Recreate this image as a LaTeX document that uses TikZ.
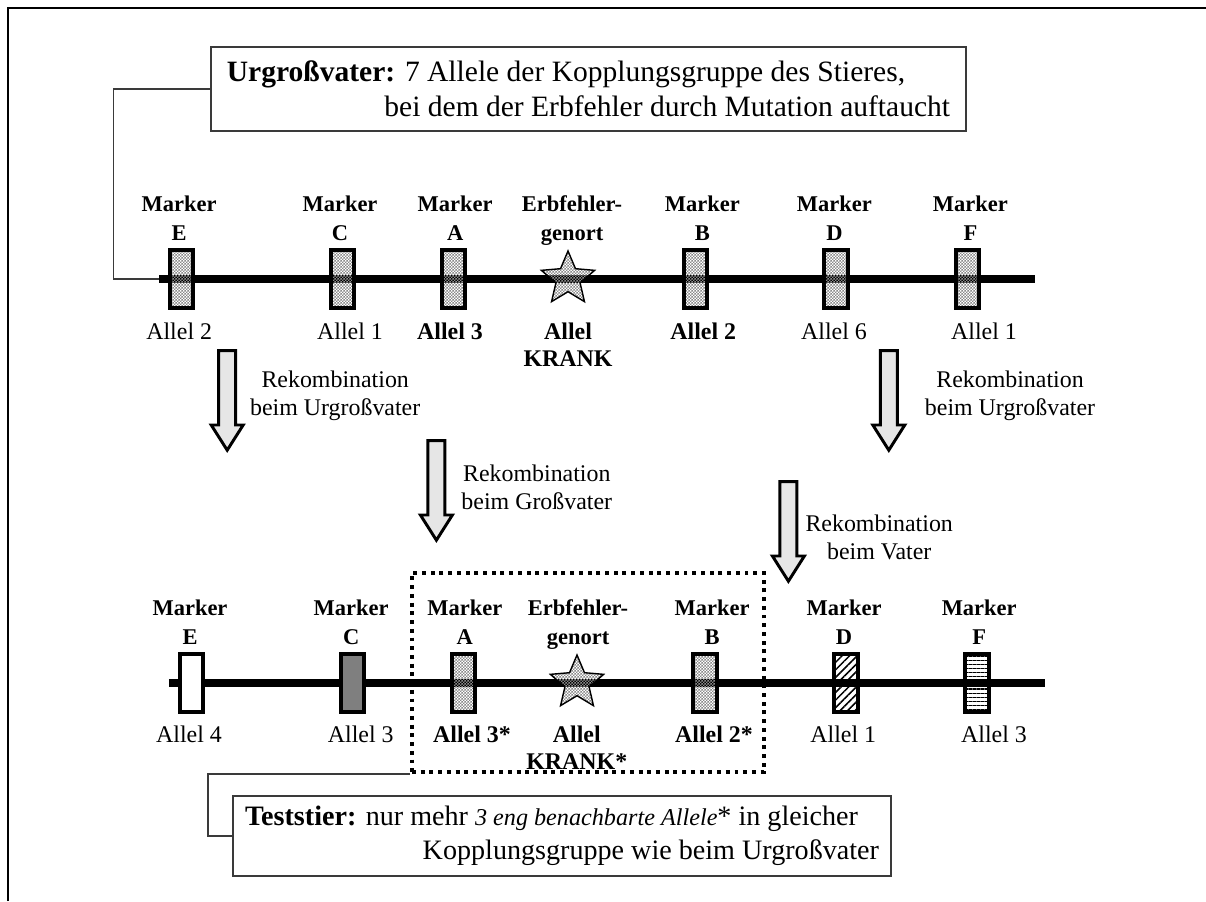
\documentclass[tikz,border=0pt]{standalone}
\usepackage{fontspec}
\setmainfont{Liberation Serif}
\usetikzlibrary{positioning,shapes.geometric,patterns,patterns.meta}
\definecolor{genFrame}{HTML}{3A3A3A}
\definecolor{genArrow}{HTML}{E6E6E6}
\definecolor{genDark}{HTML}{7F7F7F}
\definecolor{genCheck}{HTML}{8A8A8A}

% small checker tiles for the marker and gene-locus fills
\pgfdeclarepatternformonly{gen checker}{\pgfqpoint{0pt}{0pt}}{\pgfqpoint{1.2pt}{1.2pt}}{\pgfqpoint{1.2pt}{1.2pt}}{%
  \pgfpathrectangle{\pgfqpoint{0pt}{0pt}}{\pgfqpoint{0.6pt}{0.6pt}}%
  \pgfpathrectangle{\pgfqpoint{0.6pt}{0.6pt}}{\pgfqpoint{0.6pt}{0.6pt}}%
  \pgfusepath{fill}}

\tikzset{
  gen chrom/.style={draw=black, line width=2.5pt},
  gen marker/.style={rectangle, draw=black, line width=1.4pt, minimum width=0.29cm, minimum height=0.72cm, inner sep=0pt},
  gen checker/.style={gen marker, pattern=gen checker, pattern color=genCheck},
  gen star/.style={star, star points=5, star point ratio=2.2, draw=black, line width=0.5pt, minimum size=0.7cm, inner sep=0pt, pattern=gen checker, pattern color=genCheck},
  gen head/.style={font=\fontsize{8}{10.3}\selectfont\bfseries, align=center, anchor=north, inner sep=0pt},
  gen allel/.style={font=\fontsize{8.5}{9.7}\selectfont, align=center, anchor=north, inner sep=0pt},
  gen rec/.style={font=\fontsize{8.5}{9.9}\selectfont, align=center},
  gen arrow/.style={draw=black, line width=1.05pt, fill=genArrow},
  gen box/.style={draw=genFrame, line width=0.55pt, fill=white, font=\fontsize{10.5}{12.6}\selectfont, align=flush left, inner ysep=0pt},
  gen link/.style={draw=genFrame, line width=0.55pt},
  gen dots/.style={draw=black, line width=1.4pt, dash pattern=on 1.4pt off 1.7pt},
  gen frame/.style={draw=black, line width=0.7pt},
}

\begin{document}
\begin{tikzpicture}
  \useasboundingbox (0,0) rectangle (15.075,11.2625);
  \draw[gen frame] (0.1,0) -- (0.1,11.1625) -- (15.075,11.1625);

  % Title box
  \node[gen box, inner xsep=0.2cm, text width=9.04cm, minimum height=1.05cm] (urgv) at (7.356,10.15)
    {\mbox{\textbf{Urgroßvater:} 7 Allele der Kopplungsgruppe des Stieres,}\\
     \hspace*{\fill}bei dem der Erbfehler durch Mutation auftaucht};

  % Upper chromosome (great-grandfather)
  \coordinate (topL) at (1.99,7.775);
  \coordinate (topR) at (12.94,7.775);
  \draw[gen chrom] (topL) -- (topR);
  \draw[gen link] (urgv.west) -- ++(-1.21,0) |- (topL);

  \node[gen checker] (tmE) at (2.27,7.775) {};
  \node[gen checker] (tmC) at (4.28,7.775) {};
  \node[gen checker] (tmA) at (5.67,7.775) {};
  \node[gen star]    (tmS) at (7.10,7.775) {};
  \node[gen checker] (tmB) at (8.69,7.775) {};
  \node[gen checker] (tmD) at (10.45,7.775) {};
  \node[gen checker] (tmF) at (12.09,7.775) {};

  \foreach \n/\x in {E/2.24, C/4.25, A/5.69, B/8.78, D/10.43, F/12.13}
    \node[gen head] (th\n) at (\x,8.825) {Marker\\\n};
  \node[gen head] (thS) at (7.15,8.825) {Erbfehler-\\genort};

  \foreach \n/\x/\a in {E/2.24/Allel 2, C/4.375/Allel 1, A/5.625/\textbf{Allel 3},
      S/7.1/\textbf{Allel}\\\textbf{KRANK}, B/8.79/\textbf{Allel 2}, D/10.425/Allel 6, F/12.3/Allel 1}
    \node[gen allel] (ta\n) at (\x,7.2375) {\a};

  % Recombination arrows
  \foreach \n/\x/\y in {1/2.84/6.88, 2/5.455/5.755, 3/11.11/6.88, 4/9.855/5.2425}
    \draw[gen arrow, shift={(\x,\y)}] (-0.106,0) -- (0.106,0) -- (0.106,-0.93) -- (0.2,-0.93)
      -- (0,-1.245) -- (-0.2,-0.93) -- (-0.106,-0.93) -- cycle;
  \node[gen rec] (rec1) at (4.19,6.3125) {Rekombination\\beim Urgroßvater};
  \node[gen rec] (rec2) at (6.71,5.17) {Rekombination\\beim Großvater};
  \node[gen rec] (rec3) at (12.625,6.31) {Rekombination\\beim Urgroßvater};
  \node[gen rec] (rec4) at (10.99,4.55) {Rekombination\\beim Vater};

  % Lower chromosome (test bull)
  \coordinate (botL) at (2.11,2.725);
  \coordinate (botR) at (13.06,2.725);
  \draw[gen chrom] (botL) -- (botR);

  \node[gen marker, fill=white] (bmE) at (2.39,2.725) {};
  \node[gen marker, fill=genDark] (bmC) at (4.41,2.725) {};
  \node[gen checker] (bmA) at (5.79,2.725) {};
  \node[gen star]    (bmS) at (7.2125,2.725) {};
  \node[gen checker] (bmB) at (8.8125,2.725) {};
  \node[gen marker, pattern={Lines[angle=45, distance=1.9pt, line width=0.55pt]}] (bmD) at (10.575,2.725) {};
  \node[gen marker, pattern={Lines[angle=0, distance=1.45pt, line width=0.4pt]}] (bmF) at (12.2125,2.725) {};

  \foreach \n/\x in {E/2.375, C/4.39, A/5.81, B/8.9, D/10.55, F/12.24}
    \node[gen head] (bh\n) at (\x,3.775) {Marker\\\n};
  \node[gen head] (bhS) at (7.225,3.775) {Erbfehler-\\genort};

  \foreach \n/\x/\a in {E/2.3625/Allel 4, C/4.51/Allel 3, A/5.9/\textbf{Allel 3*},
      S/7.21/\textbf{Allel}\\\textbf{KRANK*}, B/8.925/\textbf{Allel 2*}, D/10.54/Allel 1, F/12.425/Allel 3}
    \node[gen allel] (ba\n) at (\x,2.2) {\a};

  % Linked alleles and the test bull box
  \node[gen dots, minimum width=4.4cm, minimum height=2.4875cm, inner sep=0pt] (linked) at (7.35,2.856) {};
  \node[gen box, font=\fontsize{10}{12.2}\selectfont, inner xsep=0.15cm, text width=7.925cm, minimum height=1.0cm] (test) at (7.025,0.8125)
    {\mbox{\textbf{Teststier:} nur mehr {\fontsize{8.6}{12}\selectfont\itshape 3 eng benachbarte Allele}* in gleicher}\\
     \hspace*{\fill}Kopplungsgruppe wie beim Urgroßvater};
  \draw[gen link] (linked.south west) -- ++(-2.525,0) |- (test.west);
\end{tikzpicture}
\end{document}
